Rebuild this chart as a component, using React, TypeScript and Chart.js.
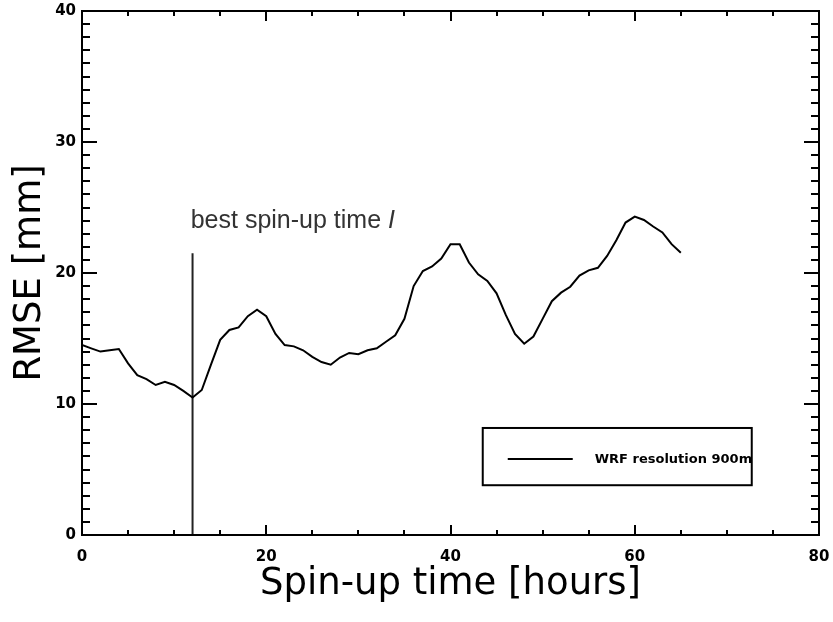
import React, { useEffect, useRef } from "react";
import { Chart, registerables } from "chart.js";

Chart.register(...registerables);

// ---- data ----
const hours = [
  0, 1, 2, 3, 4, 5, 6, 7, 8, 9, 10, 11, 12, 13, 14, 15, 16, 17, 18, 19, 20, 21,
  22, 23, 24, 25, 26, 27, 28, 29, 30, 31, 32, 33, 34, 35, 36, 37, 38, 39, 40,
  41, 42, 43, 44, 45, 46, 47, 48, 49, 50, 51, 52, 53, 54, 55, 56, 57, 58, 59,
  60, 61, 62, 63, 64, 65,
];
const rmse = [
  14.5, 14.25, 14.0, 14.1, 14.2, 13.1, 12.2, 11.9, 11.45, 11.7, 11.45, 11.0,
  10.5, 11.07, 13.0, 14.9, 15.65, 15.85, 16.7, 17.2, 16.7, 15.35, 14.5, 14.4,
  14.1, 13.6, 13.2, 13.0, 13.55, 13.9, 13.8, 14.1, 14.25, 14.75, 15.25, 16.5,
  19.0, 20.15, 20.5, 21.1, 22.2, 22.2, 20.8, 19.9, 19.4, 18.45, 16.8, 15.35,
  14.6, 15.15, 16.5, 17.85, 18.5, 18.95, 19.8, 20.2, 20.4, 21.3, 22.5, 23.85,
  24.3, 24.05, 23.55, 23.1, 22.2, 21.55,
];
const bestSpinupX = [12, 12];
const bestSpinupY = [0, 21.5];

const xMin = 0;
const xMax = 80;
const xMajorStep = 20;
const xMinorStep = 5;
const yMin = 0;
const yMax = 40;
const yMajorStep = 10;
const yMinorStep = 1;

const xTitle = "Spin-up time [hours]";
const yTitle = "RMSE [mm]";
const annotationText = "best spin-up time ";
const annotationItalic = "I";
const legendLabel = "WRF resolution 900m";

// legend box placement in data units
const legendBoxX = [43.5, 72.7];
const legendBoxY = [8.17, 3.8];
const annotationPos = [11.8, 23.4];

const framePlugin = {
  id: "frameTicks",
  afterDatasetsDraw(chart: any) {
    const { ctx, chartArea: a, scales } = chart;
    const xs = scales.x;
    const ys = scales.y;
    ctx.save();
    ctx.strokeStyle = "#000";
    ctx.lineWidth = 2;
    ctx.lineCap = "butt";
    ctx.strokeRect(a.left, a.top, a.right - a.left, a.bottom - a.top);
    ctx.beginPath();
    for (let v = yMin; v <= yMax; v += yMinorStep) {
      const len = v % yMajorStep === 0 ? 15 : 8;
      const py = Math.round(ys.getPixelForValue(v));
      ctx.moveTo(a.left, py);
      ctx.lineTo(a.left + len, py);
      ctx.moveTo(a.right, py);
      ctx.lineTo(a.right - len, py);
    }
    for (let v = xMin; v <= xMax; v += xMinorStep) {
      const len = v % xMajorStep === 0 ? 10 : 5;
      const px = Math.round(xs.getPixelForValue(v));
      ctx.moveTo(px, a.bottom);
      ctx.lineTo(px, a.bottom - len);
      ctx.moveTo(px, a.top);
      ctx.lineTo(px, a.top + len);
    }
    ctx.stroke();

    // annotation text
    const tx = xs.getPixelForValue(annotationPos[0]);
    const ty = ys.getPixelForValue(annotationPos[1]);
    ctx.fillStyle = "#333";
    ctx.textBaseline = "alphabetic";
    ctx.textAlign = "left";
    ctx.font = "25px 'Liberation Sans', Arial, sans-serif";
    ctx.fillText(annotationText, tx, ty);
    const w = ctx.measureText(annotationText).width;
    ctx.font = "italic 25px 'Liberation Sans', Arial, sans-serif";
    ctx.fillText(annotationItalic, tx + w, ty);

    // legend box
    const lx0 = xs.getPixelForValue(legendBoxX[0]);
    const lx1 = xs.getPixelForValue(legendBoxX[1]);
    const ly0 = ys.getPixelForValue(legendBoxY[0]);
    const ly1 = ys.getPixelForValue(legendBoxY[1]);
    ctx.lineWidth = 2;
    ctx.strokeStyle = "#000";
    ctx.strokeRect(lx0, ly0, lx1 - lx0, ly1 - ly0);
    const midY = Math.round((ly0 + ly1) / 2) + 2;
    ctx.beginPath();
    ctx.moveTo(lx0 + 25, midY);
    ctx.lineTo(lx0 + 90, midY);
    ctx.stroke();
    ctx.fillStyle = "#000";
    ctx.font = "bold 13px 'DejaVu Sans', sans-serif";
    ctx.textBaseline = "middle";
    ctx.fillText(legendLabel, lx0 + 112, midY + 1);
    ctx.restore();
  },
};

export default function App() {
  const ref = useRef<HTMLCanvasElement | null>(null);
  useEffect(() => {
    if (!ref.current) return;
    const chart = new Chart(ref.current, {
      type: "line",
      data: {
        datasets: [
          {
            label: legendLabel,
            data: hours.map((h, i) => ({ x: h, y: rmse[i] })),
            borderColor: "#000",
            borderWidth: 2,
            pointRadius: 0,
            tension: 0,
            fill: false,
          },
          {
            label: "best spin-up time",
            data: bestSpinupX.map((h, i) => ({ x: h, y: bestSpinupY[i] })),
            borderColor: "#222",
            borderWidth: 2,
            pointRadius: 0,
            fill: false,
          },
        ],
      },
      options: {
        animation: false,
        responsive: true,
        maintainAspectRatio: false,
        layout: { padding: { top: 11, right: 14, left: 0, bottom: 0 } },
        plugins: {
          legend: { display: false },
          tooltip: { enabled: false },
        },
        scales: {
          x: {
            type: "linear",
            min: xMin,
            max: xMax,
            grid: { display: false, drawTicks: false },
            border: { display: false },
            ticks: {
              stepSize: xMajorStep,
              padding: 13,
              color: "#000",
              maxRotation: 0,
              font: { family: "'DejaVu Sans', sans-serif", size: 15, weight: "bold" },
            },
            title: {
              display: true,
              text: xTitle,
              color: "#000",
              padding: { top: 0, bottom: 15 },
              font: { family: "'DejaVu Sans', sans-serif", size: 37, weight: "normal" },
            },
            afterFit: (s: any) => {
              s.height = 87;
              s.paddingLeft = 0;
              s.paddingRight = 0;
            },
          },
          y: {
            type: "linear",
            min: yMin,
            max: yMax,
            grid: { display: false, drawTicks: false },
            border: { display: false },
            ticks: {
              stepSize: yMajorStep,
              padding: 6,
              color: "#000",
              font: { family: "'DejaVu Sans', sans-serif", size: 15, weight: "bold" },
            },
            title: {
              display: true,
              text: yTitle,
              color: "#000",
              padding: { top: 8, bottom: 0 },
              font: { family: "'DejaVu Sans', sans-serif", size: 37, weight: "normal" },
            },
            afterFit: (s: any) => {
              s.width = 82;
              s.paddingTop = 0;
              s.paddingBottom = 0;
            },
          },
        },
      },
      plugins: [framePlugin],
    });
    return () => chart.destroy();
  }, []);
  return (
    <div style={{ position: "fixed", left: 0, top: 0, width: 833, height: 622, background: "#fff" }}>
      <canvas ref={ref} />
    </div>
  );
}
